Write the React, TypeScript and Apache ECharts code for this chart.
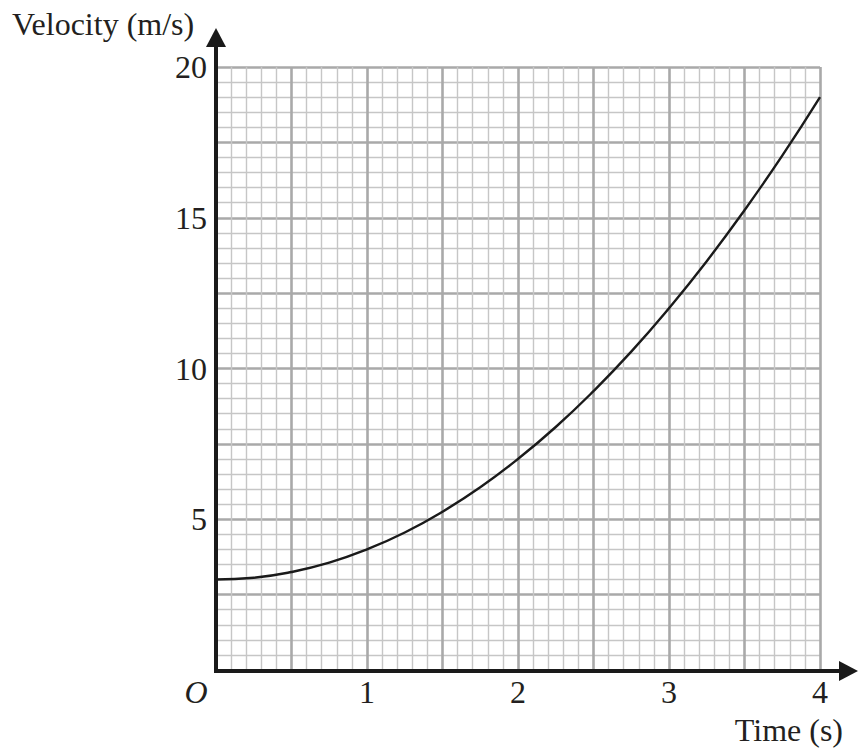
import React, { useEffect, useRef } from "react";
import * as echarts from "echarts";

// Data
const timeValues = [0, 0.25, 0.5, 0.75, 1, 1.25, 1.5, 1.75, 2, 2.25, 2.5, 2.75, 3, 3.25, 3.5, 3.75, 4];
const velocityValues = [3, 3.06, 3.25, 3.56, 4, 4.56, 5.25, 6.06, 7, 8.06, 9.25, 10.56, 12, 13.56, 15.25, 17.06, 19];
const xTickLabels = [1, 2, 3, 4];
const yTickLabels = [5, 10, 15, 20];
const xAxisTitle = "Time (s)";
const yAxisTitle = "Velocity (m/s)";
const originLabel = "O";

const FONT = "'Liberation Serif', 'Times New Roman', serif";
const TEXT_COLOR = "#231f20";
const MAJOR = "#a9a9a9";
const MINOR = "#c6c6c6";

export default function App() {
  const ref = useRef<HTMLDivElement>(null);

  useEffect(() => {
    if (!ref.current) return;
    const chart = echarts.init(ref.current, null, { renderer: "svg" });
    const data = timeValues.map((t, i) => [t, velocityValues[i]]);

    const L = 216, T = 67, R = 820, B = 670;

    chart.setOption({
      animation: false,
      backgroundColor: "#ffffff",
      grid: { left: L, right: 862 - R, top: T, bottom: 750 - B },
      xAxis: {
        type: "value",
        min: 0,
        max: 4,
        interval: 0.5,
        axisLine: { show: false },
        axisTick: { show: false },
        axisLabel: {
          margin: 6,
          fontSize: 32,
          fontFamily: FONT,
          color: TEXT_COLOR,
          formatter: (v: number) => (xTickLabels.includes(v) ? String(v) : ""),
        },
        splitLine: { show: true, lineStyle: { color: MAJOR, width: 2.6 } },
        minorTick: { show: false, splitNumber: 5 },
        minorSplitLine: { show: true, lineStyle: { color: MINOR, width: 1.4 } },
      },
      yAxis: {
        type: "value",
        min: 0,
        max: 20,
        interval: 2.5,
        axisLine: { show: false },
        axisTick: { show: false },
        axisLabel: {
          margin: 9,
          fontSize: 32,
          fontFamily: FONT,
          color: TEXT_COLOR,
          formatter: (v: number) => (yTickLabels.includes(v) ? String(v) : ""),
        },
        splitLine: { show: true, lineStyle: { color: MAJOR, width: 2.6 } },
        minorTick: { show: false, splitNumber: 5 },
        minorSplitLine: { show: true, lineStyle: { color: MINOR, width: 1.4 } },
      },
      series: [
        {
          type: "line",
          data,
          smooth: true,
          showSymbol: false,
          lineStyle: { color: "#1a1a1a", width: 2.4 },
          z: 5,
        },
      ],
      graphic: [
        {
          type: "line",
          z: 100,
          shape: { x1: L, y1: B + 2, x2: L, y2: 44 },
          style: { stroke: "#1a1a1a", lineWidth: 4 },
        },
        {
          type: "polygon",
          z: 100,
          shape: { points: [[L - 10, 47], [L + 10, 47], [L, 28]] },
          style: { fill: "#1a1a1a" },
        },
        {
          type: "line",
          z: 100,
          shape: { x1: L - 2, y1: B + 1, x2: 842, y2: B + 1 },
          style: { stroke: "#1a1a1a", lineWidth: 4 },
        },
        {
          type: "polygon",
          z: 100,
          shape: { points: [[839, B - 9], [839, B + 11], [858, B + 1]] },
          style: { fill: "#1a1a1a" },
        },
        {
          type: "text",
          z: 100,
          x: 12,
          y: 24,
          style: {
            text: yAxisTitle,
            fontSize: 32,
            fontFamily: FONT,
            fill: TEXT_COLOR,
            textAlign: "left",
            textVerticalAlign: "middle",
          },
        },
        {
          type: "text",
          z: 100,
          x: 843,
          y: 730,
          style: {
            text: xAxisTitle,
            fontSize: 32,
            fontFamily: FONT,
            fill: TEXT_COLOR,
            textAlign: "right",
            textVerticalAlign: "middle",
          },
        },
        {
          type: "text",
          z: 100,
          x: 196,
          y: 692,
          style: {
            text: originLabel,
            fontSize: 32,
            fontStyle: "italic",
            fontFamily: FONT,
            fill: TEXT_COLOR,
            textAlign: "center",
            textVerticalAlign: "middle",
          },
        },
      ],
    });

    return () => chart.dispose();
  }, []);

  return (
    <div
      ref={ref}
      style={{ position: "fixed", left: 0, top: 0, width: 862, height: 750, background: "#fff" }}
    />
  );
}
